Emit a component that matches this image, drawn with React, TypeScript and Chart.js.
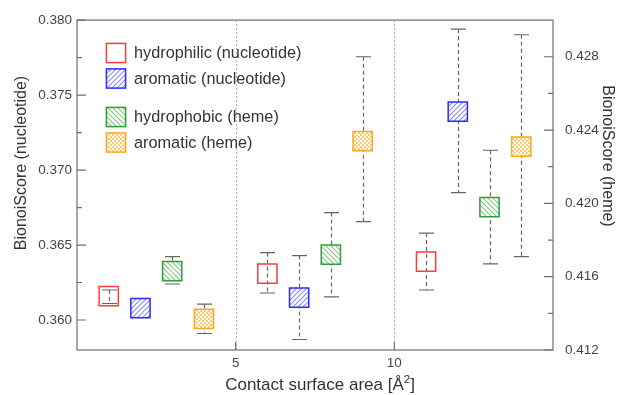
import React, { useEffect, useRef } from "react";
import { Chart, registerables } from "chart.js";

Chart.register(...registerables);

// ---- data ----
const hydrophilicNucX = [1, 6, 11];
const hydrophilicNucMean = [0.3616, 0.3631, 0.3639];
const hydrophilicNucLow = [0.3611, 0.3618, 0.362];
const hydrophilicNucHigh = [0.362, 0.3645, 0.3658];

const aromaticNucX = [2, 7, 12];
const aromaticNucMean = [0.3608, 0.3615, 0.3739];
const aromaticNucLow = [0.3605, 0.3587, 0.3685];
const aromaticNucHigh = [0.3611, 0.3643, 0.3794];

const hydrophobicHemeX = [3, 8, 13];
const hydrophobicHemeMean = [0.4163, 0.4172, 0.4198];
const hydrophobicHemeLow = [0.4156, 0.4149, 0.4167];
const hydrophobicHemeHigh = [0.4171, 0.4195, 0.4229];

const aromaticHemeX = [4, 9, 14];
const aromaticHemeMean = [0.4137, 0.4234, 0.4231];
const aromaticHemeLow = [0.4129, 0.419, 0.4171];
const aromaticHemeHigh = [0.4145, 0.428, 0.4292];

const xTicks = [5, 10];
const separators = [5, 10];
const leftMajorTicks = [0.36, 0.365, 0.37, 0.375, 0.38];
const leftMinorTicks = [0.3625, 0.3675, 0.3725, 0.3775];
const rightMajorTicks = [0.412, 0.416, 0.42, 0.424, 0.428];
const rightMinorTicks = [0.414, 0.418, 0.422, 0.426];

const seriesLabels = [
  "hydrophilic (nucleotide)",
  "aromatic (nucleotide)",
  "hydrophobic (heme)",
  "aromatic (heme)",
];
const xTitleParts = ["Contact surface area [Å", "2", "]"];
const yLeftTitle = "BionoiScore (nucleotide)";
const yRightTitle = "BionoiScore (heme)";

const FONT = '"Liberation Sans", Arial, Helvetica, sans-serif';

export default function App() {
  const ref = useRef<HTMLCanvasElement>(null);

  useEffect(() => {
    const canvas = ref.current!;
    const mainCtx = canvas.getContext("2d")!;

    const makeHatch = (color: string, dir: string) => {
      const s = 5;
      const c = document.createElement("canvas");
      c.width = s;
      c.height = s;
      const g = c.getContext("2d")!;
      g.fillStyle = "#ffffff";
      g.fillRect(0, 0, s, s);
      g.strokeStyle = color;
      g.lineWidth = 1.1;
      g.beginPath();
      if (dir === "/") {
        g.moveTo(0, s); g.lineTo(s, 0);
        g.moveTo(-1, 1); g.lineTo(1, -1);
        g.moveTo(s - 1, s + 1); g.lineTo(s + 1, s - 1);
      } else {
        g.moveTo(0, 0); g.lineTo(s, s);
        g.moveTo(s - 1, -1); g.lineTo(s + 1, 1);
        g.moveTo(-1, s - 1); g.lineTo(1, s + 1);
      }
      g.stroke();
      return mainCtx.createPattern(c, "repeat")!;
    };
    const makeChecker = (color: string) => {
      const c = document.createElement("canvas");
      c.width = 4;
      c.height = 4;
      const g = c.getContext("2d")!;
      g.fillStyle = color;
      g.fillRect(0, 0, 4, 4);
      g.fillStyle = "#ffffff";
      g.fillRect(0, 0, 2, 2);
      g.fillRect(2, 2, 2, 2);
      return mainCtx.createPattern(c, "repeat")!;
    };

    const colors = ["#ff3b3b", "#2b2bff", "#2e9e36", "#ffa620"];
    const fills: any[] = [
      "rgba(0,0,0,0)",
      makeHatch("#8a8aff", "/"),
      makeHatch("#86c48a", "\\"),
      makeChecker("#ffcc70"),
    ];

    const mk = (i: number, xs: number[], ys: number[], lo: number[], hi: number[], axis: string) => ({
      label: seriesLabels[i],
      data: xs.map((x, j) => ({ x, y: ys[j] })),
      errLow: lo,
      errHigh: hi,
      yAxisID: axis,
      pointStyle: "rect",
      pointRadius: 13.6,
      pointHoverRadius: 13.6,
      borderWidth: 1.5,
      borderColor: colors[i],
      backgroundColor: fills[i],
      showLine: false,
    });

    const datasets: any[] = [
      mk(0, hydrophilicNucX, hydrophilicNucMean, hydrophilicNucLow, hydrophilicNucHigh, "y"),
      mk(1, aromaticNucX, aromaticNucMean, aromaticNucLow, aromaticNucHigh, "y"),
      mk(2, hydrophobicHemeX, hydrophobicHemeMean, hydrophobicHemeLow, hydrophobicHemeHigh, "y2"),
      mk(3, aromaticHemeX, aromaticHemeMean, aromaticHemeLow, aromaticHemeHigh, "y2"),
    ];

    const decor = {
      id: "decor",
      beforeDatasetsDraw(chart: any) {
        const ctx = chart.ctx;
        const { top, bottom } = chart.chartArea;
        const xs = chart.scales.x;
        ctx.save();
        ctx.strokeStyle = "#b0b0b0";
        ctx.lineWidth = 1;
        ctx.setLineDash([2, 2]);
        separators.forEach((v) => {
          const px = Math.round(xs.getPixelForValue(v)) + 0.5;
          ctx.beginPath();
          ctx.moveTo(px, top);
          ctx.lineTo(px, bottom);
          ctx.stroke();
        });
        ctx.strokeStyle = "#666666";
        ctx.lineWidth = 1.2;
        chart.data.datasets.forEach((ds: any) => {
          const ys = chart.scales[ds.yAxisID];
          ds.data.forEach((p: any, j: number) => {
            const x = Math.round(xs.getPixelForValue(p.x)) + 0.5;
            const yl = ys.getPixelForValue(ds.errLow[j]);
            const yh = ys.getPixelForValue(ds.errHigh[j]);
            ctx.setLineDash([4, 3]);
            ctx.beginPath();
            ctx.moveTo(x, yh);
            ctx.lineTo(x, yl);
            ctx.stroke();
            ctx.setLineDash([]);
            ctx.beginPath();
            ctx.moveTo(x - 7.5, yh);
            ctx.lineTo(x + 7.5, yh);
            ctx.moveTo(x - 7.5, yl);
            ctx.lineTo(x + 7.5, yl);
            ctx.stroke();
          });
        });
        ctx.restore();
      },
      afterDraw(chart: any) {
        const ctx = chart.ctx;
        const { left, right, top, bottom } = chart.chartArea;
        const xs = chart.scales.x;
        const yl = chart.scales.y;
        const yr = chart.scales.y2;
        ctx.save();
        ctx.strokeStyle = "#6e6e6e";
        ctx.lineWidth = 1.2;
        ctx.setLineDash([]);
        ctx.strokeRect(left, top, right - left, bottom - top);
        ctx.beginPath();
        leftMajorTicks.forEach((v) => {
          const p = yl.getPixelForValue(v);
          ctx.moveTo(left, p); ctx.lineTo(left + 9, p);
        });
        leftMinorTicks.forEach((v) => {
          const p = yl.getPixelForValue(v);
          ctx.moveTo(left, p); ctx.lineTo(left + 5, p);
        });
        rightMajorTicks.forEach((v) => {
          const p = yr.getPixelForValue(v);
          ctx.moveTo(right, p); ctx.lineTo(right - 9, p);
        });
        rightMinorTicks.forEach((v) => {
          const p = yr.getPixelForValue(v);
          ctx.moveTo(right, p); ctx.lineTo(right - 5, p);
        });
        xTicks.forEach((v) => {
          const p = xs.getPixelForValue(v);
          ctx.moveTo(p, bottom); ctx.lineTo(p, bottom - 8);
        });
        ctx.stroke();

        // x title with superscript
        ctx.fillStyle = "#333333";
        ctx.textBaseline = "alphabetic";
        ctx.textAlign = "left";
        const mainFont = `17px ${FONT}`;
        const supFont = `11.5px ${FONT}`;
        ctx.font = mainFont;
        const w0 = ctx.measureText(xTitleParts[0]).width;
        const w2 = ctx.measureText(xTitleParts[2]).width;
        ctx.font = supFont;
        const w1 = ctx.measureText(xTitleParts[1]).width;
        const total = w0 + w1 + w2;
        let tx = (left + right) / 2 + 5 - total / 2;
        const base = 390;
        ctx.font = mainFont;
        ctx.fillText(xTitleParts[0], tx, base);
        tx += w0;
        ctx.font = supFont;
        ctx.fillText(xTitleParts[1], tx, base - 7);
        tx += w1;
        ctx.font = mainFont;
        ctx.fillText(xTitleParts[2], tx, base);

        ctx.font = `16px ${FONT}`;
        ctx.textAlign = "center";
        ctx.textBaseline = "middle";
        ctx.save();
        ctx.translate(22, 163);
        ctx.rotate(-Math.PI / 2);
        ctx.fillText(yLeftTitle, 0, 0);
        ctx.restore();
        ctx.save();
        ctx.translate(607, 156);
        ctx.rotate(Math.PI / 2);
        ctx.fillText(yRightTitle, 0, 0);
        ctx.restore();

        // legend
        const rowY = [53, 78.5, 117, 142.5];
        const boxX = 116;
        const half = 9.6;
        ctx.textAlign = "left";
        ctx.font = `16.3px ${FONT}`;
        rowY.forEach((cy, i) => {
          ctx.fillStyle = fills[i];
          ctx.fillRect(boxX - half, cy - half, half * 2, half * 2);
          ctx.strokeStyle = colors[i];
          ctx.lineWidth = 1.5;
          ctx.strokeRect(boxX - half, cy - half, half * 2, half * 2);
          ctx.fillStyle = "#333333";
          ctx.fillText(seriesLabels[i], 134, cy + 1);
        });
        ctx.restore();
      },
    };

    const tickFont = { family: FONT, size: 13.5 };

    const chart = new Chart(canvas, {
      type: "scatter",
      data: { datasets },
      options: {
        responsive: false,
        animation: false,
        events: [],
        layout: { padding: { top: 18, left: 0, right: 0, bottom: 0 } },
        plugins: { legend: { display: false }, tooltip: { enabled: false } },
        scales: {
          x: {
            type: "linear",
            min: 0,
            max: 15,
            grid: { display: false, drawTicks: false },
            border: { display: false },
            afterBuildTicks: (s: any) => {
              s.ticks = xTicks.map((v) => ({ value: v }));
            },
            afterFit: (s: any) => {
              s.height = 45;
            },
            ticks: { font: tickFont, color: "#444444", padding: 5, maxRotation: 0 },
          },
          y: {
            type: "linear",
            position: "left",
            min: 0.358,
            max: 0.38,
            grid: { display: false, drawTicks: false },
            border: { display: false },
            afterBuildTicks: (s: any) => {
              s.ticks = leftMajorTicks.map((v) => ({ value: v }));
            },
            afterFit: (s: any) => {
              s.width = 77;
            },
            ticks: {
              font: tickFont,
              color: "#444444",
              padding: 5,
              callback: (v: any) => Number(v).toFixed(3),
            },
          },
          y2: {
            type: "linear",
            position: "right",
            min: 0.412,
            max: 0.43,
            grid: { display: false, drawTicks: false },
            border: { display: false },
            afterBuildTicks: (s: any) => {
              s.ticks = rightMajorTicks.map((v) => ({ value: v }));
            },
            afterFit: (s: any) => {
              s.width = 64;
            },
            ticks: {
              font: tickFont,
              color: "#444444",
              padding: 12,
              callback: (v: any) => Number(v).toFixed(3),
            },
          },
        },
      } as any,
      plugins: [decor],
    });

    return () => chart.destroy();
  }, []);

  return (
    <div style={{ position: "fixed", left: 0, top: 0, width: 617, height: 395, background: "#ffffff" }}>
      <canvas ref={ref} width={617} height={395} style={{ width: 617, height: 395, display: "block" }} />
    </div>
  );
}
